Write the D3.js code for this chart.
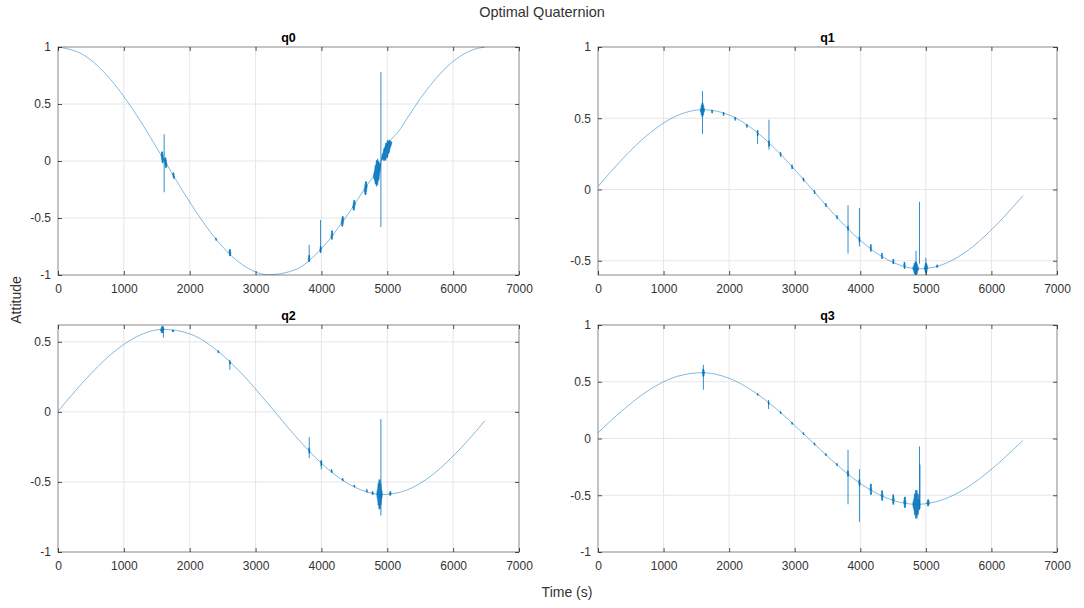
<!DOCTYPE html>
<html>
<head>
<meta charset="utf-8">
<script src="https://cdn.jsdelivr.net/npm/d3@7"></script>
<style>
  body { margin: 0; background: #fff; }
  svg { display: block; }
  text { font-family: "Liberation Sans", Arial, Helvetica, sans-serif; }
</style>
</head>
<body>
<svg id="chart" width="1084" height="608"></svg>
<script>
// Sample times (s) of the attitude solution
const timeSec = [0, 400, 800, 1200, 1600, 2000, 2400, 2800, 3200, 3600, 4000, 4400, 4800, 4880, 4920, 5200, 5600, 6000, 6400, 6480];

// Quaternion components at those times
const q0 = [1, 0.926, 0.714, 0.396, 0.019, -0.360, -0.686, -0.910, -0.998, -0.954, -0.770, -0.469, -0.130, -0.080, 0.030, 0.283, 0.625, 0.874, 0.992, 0.999];
const q1 = [0.021, 0.227, 0.400, 0.517, 0.560, 0.523, 0.411, 0.240, 0.036, -0.174, -0.357, -0.489, -0.553, -0.556, -0.556, -0.536, -0.441, -0.283, -0.085, -0.043];
const q2 = [0.003, 0.222, 0.409, 0.538, 0.589, 0.557, 0.444, 0.268, 0.053, -0.170, -0.367, -0.511, -0.584, -0.589, -0.590, -0.573, -0.479, -0.315, -0.109, -0.064];
const q3 = [0.050, 0.261, 0.435, 0.546, 0.580, 0.530, 0.404, 0.221, 0.006, -0.209, -0.396, -0.524, -0.579, -0.580, -0.579, -0.550, -0.443, -0.271, -0.061, -0.017];

// Noise bursts around the solution: [start time, end time, half-height]
const q0Bursts = [[1565,1605,0.05],[1615,1655,0.045],[1740,1770,0.025],[2390,2410,0.01],[2595,2625,0.03],
  [3800,3825,0.03],[3975,4000,0.03],[4145,4175,0.04],[4300,4340,0.045],[4475,4515,0.045],
  [4650,4695,0.06],[4790,4900,0.12],[4910,5070,0.08]];
const q1Bursts = [[1560,1625,0.05],[1730,1750,0.012],[1905,1925,0.012],[2082,2102,0.012],[2260,2280,0.012],
  [2425,2445,0.02],[2598,2618,0.02],[2775,2795,0.015],[2950,2970,0.015],[3124,3144,0.012],[3292,3312,0.012],
  [3466,3486,0.012],[3635,3655,0.012],[3803,3823,0.015],[3977,3997,0.02],[4150,4172,0.025],[4320,4342,0.02],
  [4493,4515,0.018],[4662,4686,0.025],[4800,4890,0.05],[4975,5030,0.035],[5160,5185,0.01]];
const q2Bursts = [[1555,1610,0.025],[1730,1760,0.008],[2425,2445,0.008],[2600,2620,0.012],[3805,3825,0.02],
  [3988,4008,0.02],[4145,4165,0.012],[4313,4333,0.01],[4490,4510,0.008],[4680,4700,0.01],[4765,4790,0.012],
  [4840,4925,0.11],[5030,5060,0.015]];
const q3Bursts = [[1590,1625,0.035],[2425,2445,0.008],[2592,2612,0.012],[2776,2796,0.01],[2950,2970,0.01],
  [3124,3144,0.01],[3292,3312,0.01],[3466,3486,0.01],[3635,3655,0.01],[3800,3825,0.025],[3975,4000,0.03],
  [4148,4176,0.05],[4318,4348,0.045],[4488,4518,0.045],[4662,4698,0.05],[4800,4910,0.13],[5015,5055,0.03]];

// Single outlier spikes: [time, low, high]
const q0Spikes = [[1612,-0.274,0.234],[2615,-0.83,-0.78],[3814,-0.88,-0.736],[3987,-0.794,-0.517],[4903,-0.58,0.78]];
const q1Spikes = [[1594,0.39,0.69],[2433,0.32,0.41],[2607,0.28,0.49],[3813,-0.45,-0.11],[3987,-0.40,-0.13],
  [4850,-0.6,-0.43],[4903,-0.52,-0.086],[5000,-0.6,-0.48]];
const q2Spikes = [[1600,0.53,0.61],[2609,0.30,0.37],[3815,-0.33,-0.18],[3998,-0.41,-0.35],[4903,-0.74,-0.052]];
const q3Spikes = [[1607,0.43,0.65],[2601,0.26,0.34],[3813,-0.58,-0.10],[3987,-0.735,-0.27],[4903,-0.63,-0.07],[4910,-0.62,-0.23]];

// Axis ticks
const xTicks = [0, 1000, 2000, 3000, 4000, 5000, 6000, 7000];
const yTicksFull = [-1, -0.5, 0, 0.5, 1];
const yTicksQ1 = [-0.5, 0, 0.5, 1];
const yTicksQ2 = [-1, -0.5, 0, 0.5];

const panels = [
  { name: "q0", values: q0, bursts: q0Bursts, spikes: q0Spikes, yDomain: [-1, 1],    yTicks: yTicksFull, box: [58, 47, 519, 275] },
  { name: "q1", values: q1, bursts: q1Bursts, spikes: q1Spikes, yDomain: [-0.6, 1],  yTicks: yTicksQ1,   box: [598, 47, 1057, 275] },
  { name: "q2", values: q2, bursts: q2Bursts, spikes: q2Spikes, yDomain: [-1, 0.62], yTicks: yTicksQ2,   box: [58, 325, 519, 552] },
  { name: "q3", values: q3, bursts: q3Bursts, spikes: q3Spikes, yDomain: [-1, 1],    yTicks: yTicksFull, box: [598, 325, 1057, 552] }
];

const blue = "#0072BD";
const ink = "#333333";
const svg = d3.select("#chart");

svg.append("text")
  .attr("x", 542).attr("y", 17)
  .attr("text-anchor", "middle")
  .attr("font-size", 14.5).attr("fill", ink)
  .text("Optimal Quaternion");

svg.append("text")
  .attr("transform", "translate(21,300) rotate(-90)")
  .attr("text-anchor", "middle")
  .attr("font-size", 14).attr("fill", ink)
  .text("Attitude");

svg.append("text")
  .attr("x", 567).attr("y", 597)
  .attr("text-anchor", "middle")
  .attr("font-size", 14).attr("fill", ink)
  .text("Time (s)");

panels.forEach((p, i) => {
  const [x0, y0, x1, y1] = p.box;
  const w = x1 - x0, h = y1 - y0;
  const g = svg.append("g").attr("transform", `translate(${x0},${y0})`);

  const x = d3.scaleLinear().domain([0, 7000]).range([0, w]);
  const y = d3.scaleLinear().domain(p.yDomain).range([h, 0]);
  // piecewise-linear lookup of the solution at any time
  const valueAt = d3.scaleLinear().domain(timeSec).range(p.values).clamp(true);

  // grid
  g.append("g").selectAll("line").data(xTicks.slice(1, -1)).join("line")
    .attr("x1", d => x(d)).attr("x2", d => x(d)).attr("y1", 0).attr("y2", h)
    .attr("stroke", "#e6e6e6").attr("stroke-width", 1);
  g.append("g").selectAll("line").data(p.yTicks.filter(d => d > p.yDomain[0] && d < p.yDomain[1])).join("line")
    .attr("x1", 0).attr("x2", w).attr("y1", d => y(d)).attr("y2", d => y(d))
    .attr("stroke", "#e6e6e6").attr("stroke-width", 1);

  const clipId = "clip" + i;
  g.append("clipPath").attr("id", clipId).append("rect")
    .attr("x", 0).attr("y", 0).attr("width", w).attr("height", h);
  const plot = g.append("g").attr("clip-path", `url(#${clipId})`);

  // smooth solution
  const line = d3.line().x((d, k) => x(timeSec[k])).y(d => y(d)).curve(d3.curveMonotoneX);
  plot.append("path").datum(p.values)
    .attr("d", line)
    .attr("fill", "none").attr("stroke", blue)
    .attr("stroke-width", 0.9).attr("stroke-opacity", 0.55);

  // noise bursts drawn as a tapered band along the solution
  plot.append("g").selectAll("path").data(p.bursts).join("path")
    .attr("d", ([t0, t1, dy]) => {
      const n = 12, up = [], dn = [];
      for (let k = 0; k <= n; k++) {
        const s = k / n, t = t0 + s * (t1 - t0), v = valueAt(t);
        const a = dy * Math.sin(Math.PI * s) * (k % 2 ? 1 : 0.7);
        up.push([x(t), y(v + a)]);
        dn.push([x(t), y(v - a)]);
      }
      return d3.line()(up.concat(dn.reverse())) + "Z";
    })
    .attr("fill", blue).attr("fill-opacity", 0.9)
    .attr("stroke", blue).attr("stroke-width", 0.7).attr("stroke-opacity", 0.8);

  // spikes
  plot.append("g").selectAll("line").data(p.spikes).join("line")
    .attr("x1", d => x(d[0])).attr("x2", d => x(d[0]))
    .attr("y1", d => y(d[1])).attr("y2", d => y(d[2]))
    .attr("stroke", blue).attr("stroke-width", 1).attr("stroke-opacity", 0.8);

  // axes with inward ticks on all four sides
  const fmt = d => String(d);
  const styleAxis = sel => {
    sel.select(".domain").remove();
    sel.selectAll(".tick line").attr("stroke", "#262626").attr("stroke-width", 0.8);
    sel.selectAll(".tick text").attr("fill", ink).attr("font-size", 12)
      .attr("font-family", "\"Liberation Sans\", Arial, Helvetica, sans-serif");
  };
  g.append("g").attr("transform", `translate(0,${h})`)
    .call(d3.axisBottom(x).tickValues(xTicks).tickFormat(fmt).tickSize(-4).tickPadding(9)).call(styleAxis);
  g.append("g")
    .call(d3.axisTop(x).tickValues(xTicks).tickFormat("").tickSize(-4)).call(styleAxis);
  g.append("g")
    .call(d3.axisLeft(y).tickValues(p.yTicks).tickFormat(fmt).tickSize(-4).tickPadding(7)).call(styleAxis);
  g.append("g").attr("transform", `translate(${w},0)`)
    .call(d3.axisRight(y).tickValues(p.yTicks).tickFormat("").tickSize(-4)).call(styleAxis);

  // box
  g.append("rect").attr("x", 0).attr("y", 0).attr("width", w).attr("height", h)
    .attr("fill", "none").attr("stroke", "#262626").attr("stroke-opacity", 0.55).attr("stroke-width", 1);

  // panel title
  g.append("text")
    .attr("x", w / 2).attr("y", -5)
    .attr("text-anchor", "middle")
    .attr("font-size", 12.5).attr("font-weight", "bold").attr("fill", "#000")
    .text(p.name);
});
</script>
</body>
</html>
